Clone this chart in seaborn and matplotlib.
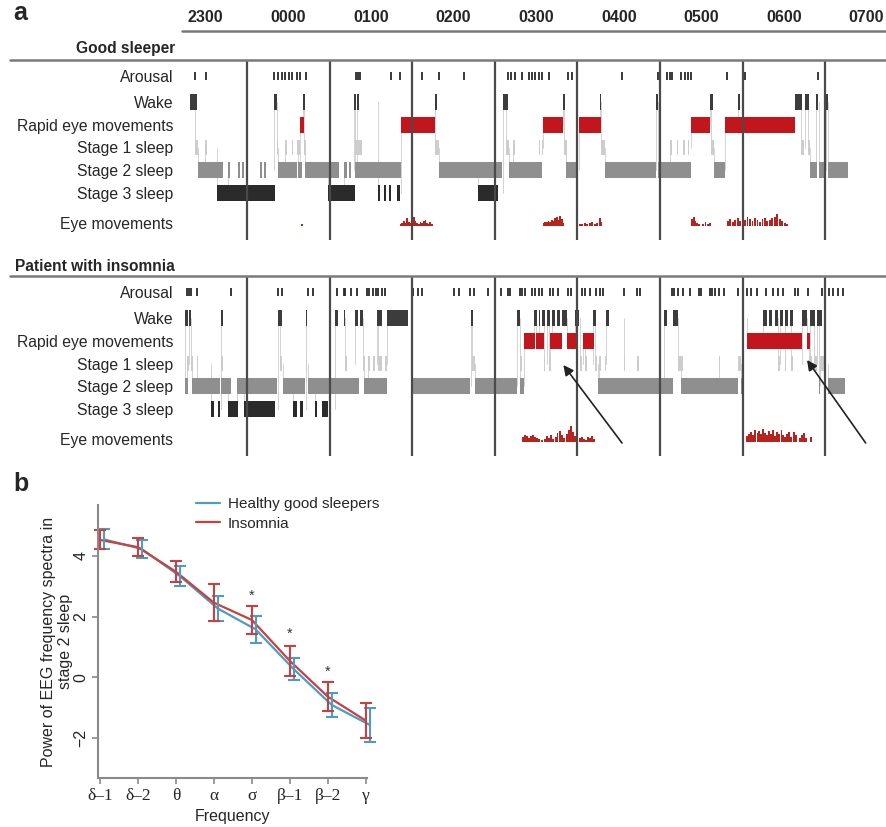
import numpy as np
import pandas as pd
import matplotlib.pyplot as plt
import seaborn as sns
from matplotlib.lines import Line2D
from matplotlib.transforms import blended_transform_factory

sns.set_theme(style="white")
plt.rcParams['font.family'] = ['Liberation Sans', 'DejaVu Sans']

# ---------------- panel a data (time in hours, hour marks at 1..8) ----------------
hour_labels = ['2300', '0000', '0100', '0200', '0300', '0400', '0500', '0600', '0700']
label_pos = [0.5, 1.5, 2.5, 3.5, 4.5, 5.5, 6.5, 7.5, 8.5]
hour_marks = [1, 2, 3, 4, 5, 6, 7, 8]
row_names = ['Arousal', 'Wake', 'Rapid eye movements', 'Stage 1 sleep',
             'Stage 2 sleep', 'Stage 3 sleep', 'Eye movements']

# good sleeper
good_arousal = [0.37, 0.50, 1.33, 1.38, 1.42, 1.46, 1.51, 1.55, 1.60, 1.64, 1.71,
                2.32, 2.34, 2.37, 2.74, 2.85, 3.12, 3.32, 3.63, 4.16, 4.20, 4.24,
                4.33, 4.41, 4.45, 4.49, 4.53, 4.57, 4.66, 4.89, 4.93, 5.54, 5.98,
                6.08, 6.12, 6.14, 6.26, 6.30, 6.34, 6.37, 6.81, 7.03, 7.91]
good_wake = [(0.31, 0.39), (1.33, 1.36), (1.68, 1.70), (2.30, 2.32), (2.33, 2.35),
             (3.28, 3.30), (4.10, 4.16), (4.82, 4.85), (5.27, 5.29), (5.95, 5.98),
             (6.61, 6.64), (6.94, 6.97), (7.63, 7.72), (7.75, 7.80), (7.89, 7.91),
             (8.01, 8.03)]
good_rem = [(1.64, 1.69), (2.87, 3.28), (4.58, 4.83), (5.02, 5.29), (6.38, 6.61),
            (6.79, 7.64)]
good_s1 = [(0.37, 0.41), (0.49, 0.51), (1.36, 1.38), (1.46, 1.48), (1.54, 1.56),
           (1.61, 1.64), (1.69, 1.72), (2.31, 2.39), (3.28, 3.32), (4.14, 4.17),
           (4.22, 4.24), (4.53, 4.55), (4.57, 4.58), (4.84, 4.87), (5.29, 5.33),
           (6.12, 6.15), (6.20, 6.22), (6.28, 6.30), (6.34, 6.35), (6.62, 6.65),
           (7.71, 7.74), (7.79, 7.82)]
good_s2 = [(0.41, 0.71), (0.77, 0.79), (0.89, 0.92), (0.94, 0.96), (1.16, 1.18),
           (1.21, 1.23), (1.37, 1.61), (1.62, 1.66), (1.70, 2.11), (2.17, 2.21),
           (2.23, 2.26), (2.31, 2.87), (3.32, 4.09), (4.17, 4.57), (4.86, 5.01),
           (5.33, 5.95), (5.98, 6.38), (6.65, 6.79), (7.82, 7.90), (7.93, 8.00),
           (8.03, 8.28)]
good_s3 = [(0.64, 1.34), (1.98, 2.31), (2.59, 2.61), (2.66, 2.68), (2.72, 2.74),
           (2.82, 2.85), (3.80, 4.04)]
good_eye_t = [1.67,
              2.86, 2.88, 2.90, 2.92, 2.94, 2.96, 2.98, 3.00, 3.02, 3.04, 3.06, 3.08,
              3.10, 3.12, 3.14, 3.16, 3.18, 3.20, 3.22, 3.24,
              4.59, 4.61, 4.63, 4.65, 4.67, 4.69, 4.71, 4.73, 4.75, 4.77, 4.79, 4.81, 4.83,
              5.03, 5.06, 5.09, 5.12, 5.15, 5.18, 5.21, 5.24, 5.27, 5.29,
              6.39, 6.41, 6.43, 6.45, 6.47, 6.52, 6.55, 6.58, 6.61,
              6.82, 6.85, 6.88, 6.91, 6.94, 6.97, 7.00, 7.03, 7.06, 7.09, 7.12, 7.15,
              7.18, 7.21, 7.24, 7.27, 7.30, 7.33, 7.36, 7.39, 7.42, 7.45, 7.48, 7.51, 7.54]
good_eye_h = [2,
              2, 3, 5, 3, 8, 4, 3, 6, 9, 5, 3, 2, 4, 3, 5, 6, 3, 2, 4, 2,
              3, 4, 4, 5, 4, 6, 5, 8, 9, 6, 10, 7, 3,
              2, 2, 3, 2, 3, 4, 2, 3, 8, 4,
              7, 9, 5, 3, 2, 2, 4, 2, 3,
              5, 7, 4, 6, 8, 5, 7, 6, 9, 7, 5, 8, 6, 4, 7, 8, 5, 6, 8, 9, 12, 7, 5, 3, 2]

# patient with insomnia
ins_arousal = [0.27, 0.30, 0.32, 0.39, 0.81, 1.37, 1.42, 1.74, 1.80, 2.09, 2.17, 2.19,
               2.26, 2.33, 2.45, 2.48, 2.53, 2.56, 2.59, 2.63, 2.67, 3.01, 3.07, 3.12,
               3.51, 3.57, 3.70, 3.75, 3.92, 4.08, 4.16, 4.18, 4.31, 4.33, 4.37, 4.45,
               4.49, 4.53, 4.57, 4.67, 4.71, 4.76, 4.88, 4.92, 4.99, 5.05, 5.09, 5.15,
               5.23, 5.27, 5.31, 5.56, 5.72, 5.76, 6.14, 6.17, 6.22, 6.28, 6.36, 6.47,
               6.50, 6.61, 6.63, 6.67, 6.71, 6.78, 6.95, 7.00, 7.05, 7.10, 7.17, 7.28,
               7.37, 7.43, 7.49, 7.63, 7.67, 7.79, 7.96, 8.00, 8.05, 8.10, 8.16, 8.21]
ins_wake = [(0.25, 0.28), (0.30, 0.32), (0.69, 0.71), (1.37, 1.42), (1.71, 1.73),
            (2.06, 2.10), (2.17, 2.19), (2.31, 2.34), (2.37, 2.41), (2.57, 2.63),
            (2.70, 2.95), (3.71, 3.74), (4.27, 4.31), (4.47, 4.51), (4.53, 4.55),
            (4.57, 4.61), (4.63, 4.67), (4.69, 4.73), (4.75, 4.79), (4.81, 4.87),
            (4.97, 5.02), (5.19, 5.22), (5.35, 5.38), (6.05, 6.08), (6.16, 6.22),
            (7.00, 7.02), (7.25, 7.29), (7.32, 7.35), (7.39, 7.43), (7.45, 7.49),
            (7.51, 7.55), (7.57, 7.61), (7.72, 7.78), (7.82, 7.88), (7.90, 7.96)]
ins_rem = [(4.35, 4.49), (4.50, 4.59), (4.67, 4.81), (4.87, 4.98), (5.07, 5.20),
           (7.05, 7.72), (7.78, 7.82)]
ins_s1 = [(0.27, 0.30), (0.32, 0.35), (0.39, 0.41), (0.69, 0.71), (1.40, 1.42),
          (1.71, 1.73), (2.19, 2.21), (2.41, 2.43), (2.46, 2.49), (2.53, 2.55),
          (2.59, 2.63), (2.67, 2.70), (3.72, 3.76), (4.31, 4.33), (4.59, 4.61),
          (4.65, 4.68), (5.03, 5.05), (5.09, 5.11), (5.21, 5.24), (5.26, 5.29),
          (5.33, 5.35), (5.56, 5.58), (5.72, 5.74), (6.22, 6.28), (6.71, 6.73),
          (6.95, 6.98), (7.43, 7.45), (7.51, 7.53), (7.59, 7.61), (7.80, 7.84),
          (7.86, 7.90), (7.94, 7.98)]
ins_s2 = [(0.25, 0.28), (0.34, 0.67), (0.69, 0.81), (0.88, 1.36), (1.43, 1.70),
          (1.74, 2.35), (2.42, 2.69), (2.99, 3.70), (3.76, 4.27), (4.31, 4.35),
          (5.25, 6.00), (6.00, 6.16), (6.25, 6.95), (6.98, 7.01), (7.92, 7.94),
          (8.03, 8.24)]
ins_s3 = [(0.57, 0.60), (0.65, 0.67), (0.77, 0.89), (0.96, 1.34), (1.56, 1.60),
          (1.64, 1.68), (1.82, 1.85), (1.91, 1.98)]
ins_eye_t = [4.34, 4.37, 4.39, 4.41, 4.44, 4.46, 4.49, 4.51, 4.53, 4.57, 4.61, 4.63,
             4.66, 4.68, 4.70, 4.74, 4.76, 4.79, 4.81, 4.84, 4.87, 4.90, 4.92, 4.95,
             4.97, 5.00, 5.03, 5.06, 5.08, 5.10, 5.13, 5.15, 5.18, 5.20,
             7.05, 7.08, 7.10, 7.13, 7.15, 7.18, 7.20, 7.22, 7.25, 7.27, 7.30, 7.32,
             7.34, 7.37, 7.39, 7.42, 7.44, 7.47, 7.49, 7.51, 7.54, 7.56, 7.59, 7.62,
             7.65, 7.69, 7.72, 7.74, 7.77, 7.83]
ins_eye_h = [5, 7, 6, 4, 6, 7, 5, 4, 3, 2, 3, 6, 4, 7, 3, 5, 9, 11, 7, 4, 8, 12, 16, 10,
             6, 3, 4, 5, 3, 2, 5, 4, 6, 3,
             6, 8, 10, 7, 12, 9, 11, 8, 13, 9, 7, 11, 8, 12, 6, 10, 8, 12, 7, 5, 8, 10,
             5, 10, 7, 4, 7, 9, 4, 5]

# arrows in the insomnia hypnogram (tail -> head, hours / row units)
arrow_tails = [(5.54, 167), (8.49, 167)]
arrow_heads = [(4.83, 89), (7.78, 84)]

# ---------------- panel b data ----------------
bands = ['δ–1', 'δ–2', 'θ', 'α', 'σ', 'β–1', 'β–2', 'γ']
healthy_mean = [4.55, 4.23, 3.34, 2.27, 1.58, 0.27, -0.91, -1.57]
healthy_err = [0.33, 0.30, 0.32, 0.40, 0.44, 0.36, 0.40, 0.55]
insomnia_mean = [4.53, 4.29, 3.48, 2.46, 1.89, 0.54, -0.64, -1.43]
insomnia_err = [0.31, 0.30, 0.35, 0.60, 0.47, 0.50, 0.47, 0.57]
star_bands = [4, 5, 6]
star_y = [2.7, 1.45, 0.19]

# ---------------- styling ----------------
row_y = [16, 41.5, 65, 87.5, 110, 132.5, 163]
eye_base = 166
stage_colors = {'wake': '#3c3c3c', 'rem': '#c3161c', 's1': '#cdcdcd',
                's2': '#8f8f8f', 's3': '#2b2b2b'}
eye_color = '#b8231d'
blue = '#4d9cc4'
red = '#c9403e'

fig = plt.figure(figsize=(8.87, 8.27), dpi=100)
W, H = 887.0, 827.0


def draw_hypnogram(ax, arousal, wake, rem, s1, s2, s3, eye_t, eye_h):
    stages = [('wake', wake, 1), ('rem', rem, 2), ('s1', s1, 3), ('s2', s2, 4), ('s3', s3, 5)]
    # thin transition lines between consecutive epochs
    segs = sorted([(a, b, row_y[r]) for _, lst, r in stages for a, b in lst])
    for (a0, b0, y0), (a1, b1, y1) in zip(segs[:-1], segs[1:]):
        if y0 != y1:
            ax.plot([a1, a1], [y0, y1], color='#d3d3d3', lw=0.7, zorder=0)
    for key, lst, r in stages:
        h = 15 if key == 's1' else 16
        ax.broken_barh([(a, b - a) for a, b in lst], (row_y[r] - h / 2, h),
                       facecolors=stage_colors[key], edgecolor='none', zorder=1)
    ax.vlines(arousal, row_y[0] - 4, row_y[0] + 4, color='#2a2a2a', lw=1.3, zorder=1)
    ax.bar(eye_t, eye_h, bottom=[eye_base - v for v in eye_h], width=0.022,
           color=eye_color, linewidth=0, zorder=1)
    for m in hour_marks:
        ax.axvline(m, color='#4a4a4a', lw=1.6, zorder=3)
    ax.set_xlim(0.225, 8.748)
    ax.set_ylim(180, 0)
    ax.set_yticks(row_y)
    ax.set_yticklabels(row_names, fontsize=11.3)
    ax.tick_params(axis='y', length=0, pad=7)
    ax.set_xticks([])
    for s in ax.spines.values():
        s.set_visible(False)


ax_good = fig.add_axes([183 / W, 1 - 240 / H, 704 / W, 180 / H])
draw_hypnogram(ax_good, good_arousal, good_wake, good_rem, good_s1, good_s2, good_s3,
               good_eye_t, good_eye_h)
ax_ins = fig.add_axes([183 / W, 1 - 456 / H, 704 / W, 180 / H])
draw_hypnogram(ax_ins, ins_arousal, ins_wake, ins_rem, ins_s1, ins_s2, ins_s3,
               ins_eye_t, ins_eye_h)
for (x0, y0), (x1, y1) in zip(arrow_tails, arrow_heads):
    ax_ins.annotate('', xy=(x1, y1), xytext=(x0, y0), annotation_clip=False,
                    arrowprops=dict(arrowstyle='-|>', color='#222222', lw=1.2,
                                    mutation_scale=15, shrinkA=0, shrinkB=0))

# hour labels on top
trans = blended_transform_factory(ax_good.transData, fig.transFigure)
for lab, pos in zip(hour_labels, label_pos):
    ax_good.text(pos, 1 - 18 / H, lab, transform=trans, ha='center', va='center',
                 fontsize=11.5, fontweight='bold',
                 family=['Liberation Sans Narrow', 'Liberation Sans'])

line_kw = dict(color='#7a7a7a', lw=1.8)
fig.add_artist(Line2D([182 / W, 1], [1 - 31 / H] * 2, **line_kw))
fig.add_artist(Line2D([10 / W, 1], [1 - 60 / H] * 2, **line_kw))
fig.add_artist(Line2D([10 / W, 1], [1 - 276 / H] * 2, **line_kw))
fig.text(175 / W, 1 - 48 / H, 'Good sleeper', ha='right', va='center',
         fontsize=11.2, fontweight='bold')
fig.text(175 / W, 1 - 267 / H, 'Patient with insomnia', ha='right', va='center',
         fontsize=11.2, fontweight='bold')
fig.text(13 / W, 1 - 13 / H, 'a', ha='left', va='center', fontsize=18, fontweight='bold')
fig.text(13 / W, 1 - 484 / H, 'b', ha='left', va='center', fontsize=18, fontweight='bold')

# ---------------- panel b ----------------
axb = fig.add_axes([98 / W, 1 - 778 / H, 269 / W, 273 / H])
n = len(bands)
df = pd.DataFrame({
    'pos': [i + 0.1 for i in range(n)] + list(range(n)),
    'power': healthy_mean + insomnia_mean,
    'group': ['Healthy good sleepers'] * n + ['Insomnia'] * n,
})
sns.lineplot(data=df, x='pos', y='power', hue='group',
             palette={'Healthy good sleepers': blue, 'Insomnia': red},
             lw=1.6, ax=axb, clip_on=False)
axb.errorbar([i + 0.1 for i in range(n)], healthy_mean, yerr=healthy_err, fmt='none',
             ecolor=blue, elinewidth=1.5, capsize=4, capthick=1.5, clip_on=False)
axb.errorbar(list(range(n)), insomnia_mean, yerr=insomnia_err, fmt='none',
             ecolor=red, elinewidth=1.5, capsize=4, capthick=1.5, clip_on=False)
for b, y in zip(star_bands, star_y):
    axb.text(b, y, '*', ha='center', va='center', fontsize=10.5, color='#333333')

axb.set_xlim(-0.05, 7.03)
axb.set_ylim(-3.32, 5.68)
axb.set_xticks(range(n))
axb.set_xticklabels(bands, fontsize=12.5, family=['Liberation Serif', 'DejaVu Serif'])
axb.set_yticks([-2, 0, 2, 4])
axb.set_yticklabels(['−2', '0', '2', '4'], rotation=90, va='center', fontsize=11.5)
axb.set_xlabel('Frequency', fontsize=11.5, labelpad=4)
axb.set_ylabel('Power of EEG frequency spectra in\nstage 2 sleep', fontsize=11.5,
               labelpad=0)
for side in ['top', 'right']:
    axb.spines[side].set_visible(False)
for side in ['left', 'bottom']:
    axb.spines[side].set_color('#8a8a8a')
    axb.spines[side].set_linewidth(1.5)
axb.tick_params(axis='both', direction='out', length=4, width=1.2, color='#8a8a8a',
                left=True, bottom=True, pad=3)
axb.legend(frameon=False, loc='upper left', bbox_to_anchor=(0.34, 1.05),
           handlelength=1.6, fontsize=11, labelspacing=0.35, handletextpad=0.5,
           borderaxespad=0)

fig.savefig('out.png', dpi=100, facecolor='white')
